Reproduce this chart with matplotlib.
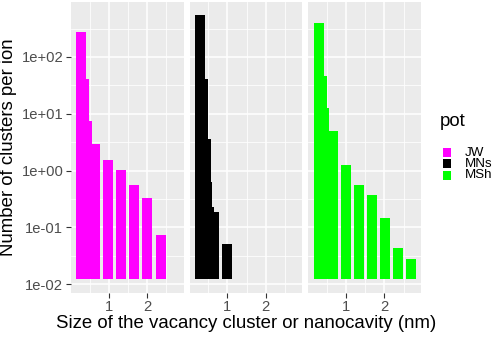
import numpy as np
import matplotlib
matplotlib.use("Agg")
import matplotlib.pyplot as plt
from matplotlib.patches import Rectangle

plt.rcParams["font.family"] = ["Liberation Sans", "DejaVu Sans"]

# data (size in nm, clusters per ion)
pots = ["JW", "MNs", "MSh"]
pot_colors = ["#FF00FF", "#000000", "#00FF00"]

size_jw = [0.28, 0.355, 0.43, 0.645, 0.985, 1.32, 1.665, 2.005, 2.35]
count_jw = [278, 41.6, 7.4, 2.98, 1.56, 1.02, 0.557, 0.323, 0.074]

size_mns = [0.29, 0.365, 0.435, 0.48, 0.52, 0.655, 0.99]
count_mns = [555, 41.3, 3.6, 0.637, 0.228, 0.188, 0.0508]

size_msh = [0.29, 0.365, 0.44, 0.655, 0.99, 1.33, 1.665, 2.005, 2.345, 2.685]
count_msh = [401, 47.2, 12.4, 5.06, 1.27, 0.548, 0.365, 0.146, 0.0425, 0.0282]

bar_width = 0.26
base = 0.0122

x_ticks = [1, 2]
y_ticks = [1e-2, 1e-1, 1e0, 1e1, 1e2]
y_ticklabels = ["1e-02", "1e-01", "1e+00", "1e+01", "1e+02"]

sizes = [size_jw, size_mns, size_msh]
counts = [count_jw, count_mns, count_msh]

W, H = 498, 337
fig = plt.figure(figsize=(W / 100, H / 100), dpi=100)

# shared limits like ggplot (5% expansion)
all_x = np.concatenate([np.array(s) for s in sizes])
x0 = all_x.min() - bar_width / 2
x1 = all_x.max() + bar_width / 2
dx = 0.05 * (x1 - x0)
xlim = (x0 - dx, x1 + dx)
ly0 = np.log10(base)
ly1 = np.log10(max(max(c) for c in counts))
dly = 0.05 * (ly1 - ly0)
ylim = (10 ** (ly0 - dly), 10 ** (ly1 + dly))

panel_w = 112.6
gap = 6.0
left0 = 71.0
top, bottom = 1.5, 292.5

y_minor = [10 ** (k + 0.5) for k in range(-3, 3)]

for i in range(3):
    l = left0 + i * (panel_w + gap)
    ax = fig.add_axes([l / W, (H - bottom) / H, panel_w / W, (bottom - top) / H])
    ax.set_facecolor("#EBEBEB")
    ax.set_yscale("log")
    ax.set_xlim(*xlim)
    ax.set_ylim(*ylim)
    for v in [0.5, 1.5, 2.5]:
        ax.axvline(v, color="white", lw=0.55, zorder=0.5)
    for v in x_ticks:
        ax.axvline(v, color="white", lw=1.1, zorder=0.6)
    for v in y_minor:
        ax.axhline(v, color="white", lw=0.55, zorder=0.5)
    for v in y_ticks:
        ax.axhline(v, color="white", lw=1.1, zorder=0.6)
    ax.bar(sizes[i], np.array(counts[i]) - base, bottom=base, width=bar_width,
           color=pot_colors[i], linewidth=0, zorder=2)
    for s in ax.spines.values():
        s.set_visible(False)
    ax.minorticks_off()
    ax.set_xticks(x_ticks)
    ax.set_xticklabels([str(t) for t in x_ticks])
    ax.tick_params(axis="both", length=3.5, width=0.8, color="#333333",
                   labelsize=10.6, labelcolor="#4D4D4D", pad=2)
    if i == 0:
        ax.set_yticks(y_ticks)
        ax.set_yticklabels(y_ticklabels)
        ax.set_ylabel("Number of clusters per ion", fontsize=13.4, labelpad=3)
    else:
        ax.set_yticks([])

fig.text(246 / W, 1 - 323 / H, "Size of the vacancy cluster or nanocavity (nm)",
         fontsize=13.4, ha="center", va="center")

# legend
fig.text(440 / W, 1 - 121 / H, "pot", fontsize=13.4, ha="left", va="center")
for j, (name, col) in enumerate(zip(pots, pot_colors)):
    yk = 148 + j * 11.3
    fig.patches.append(Rectangle((442.7 / W, 1 - (yk + 9) / H), 8.2 / W, 9 / H,
                                 transform=fig.transFigure, facecolor=col,
                                 edgecolor="none"))
    fig.text(465 / W, 1 - (yk + 4.5) / H, name, fontsize=9.6, ha="left",
             va="center")

fig.savefig("out.png", dpi=100)
